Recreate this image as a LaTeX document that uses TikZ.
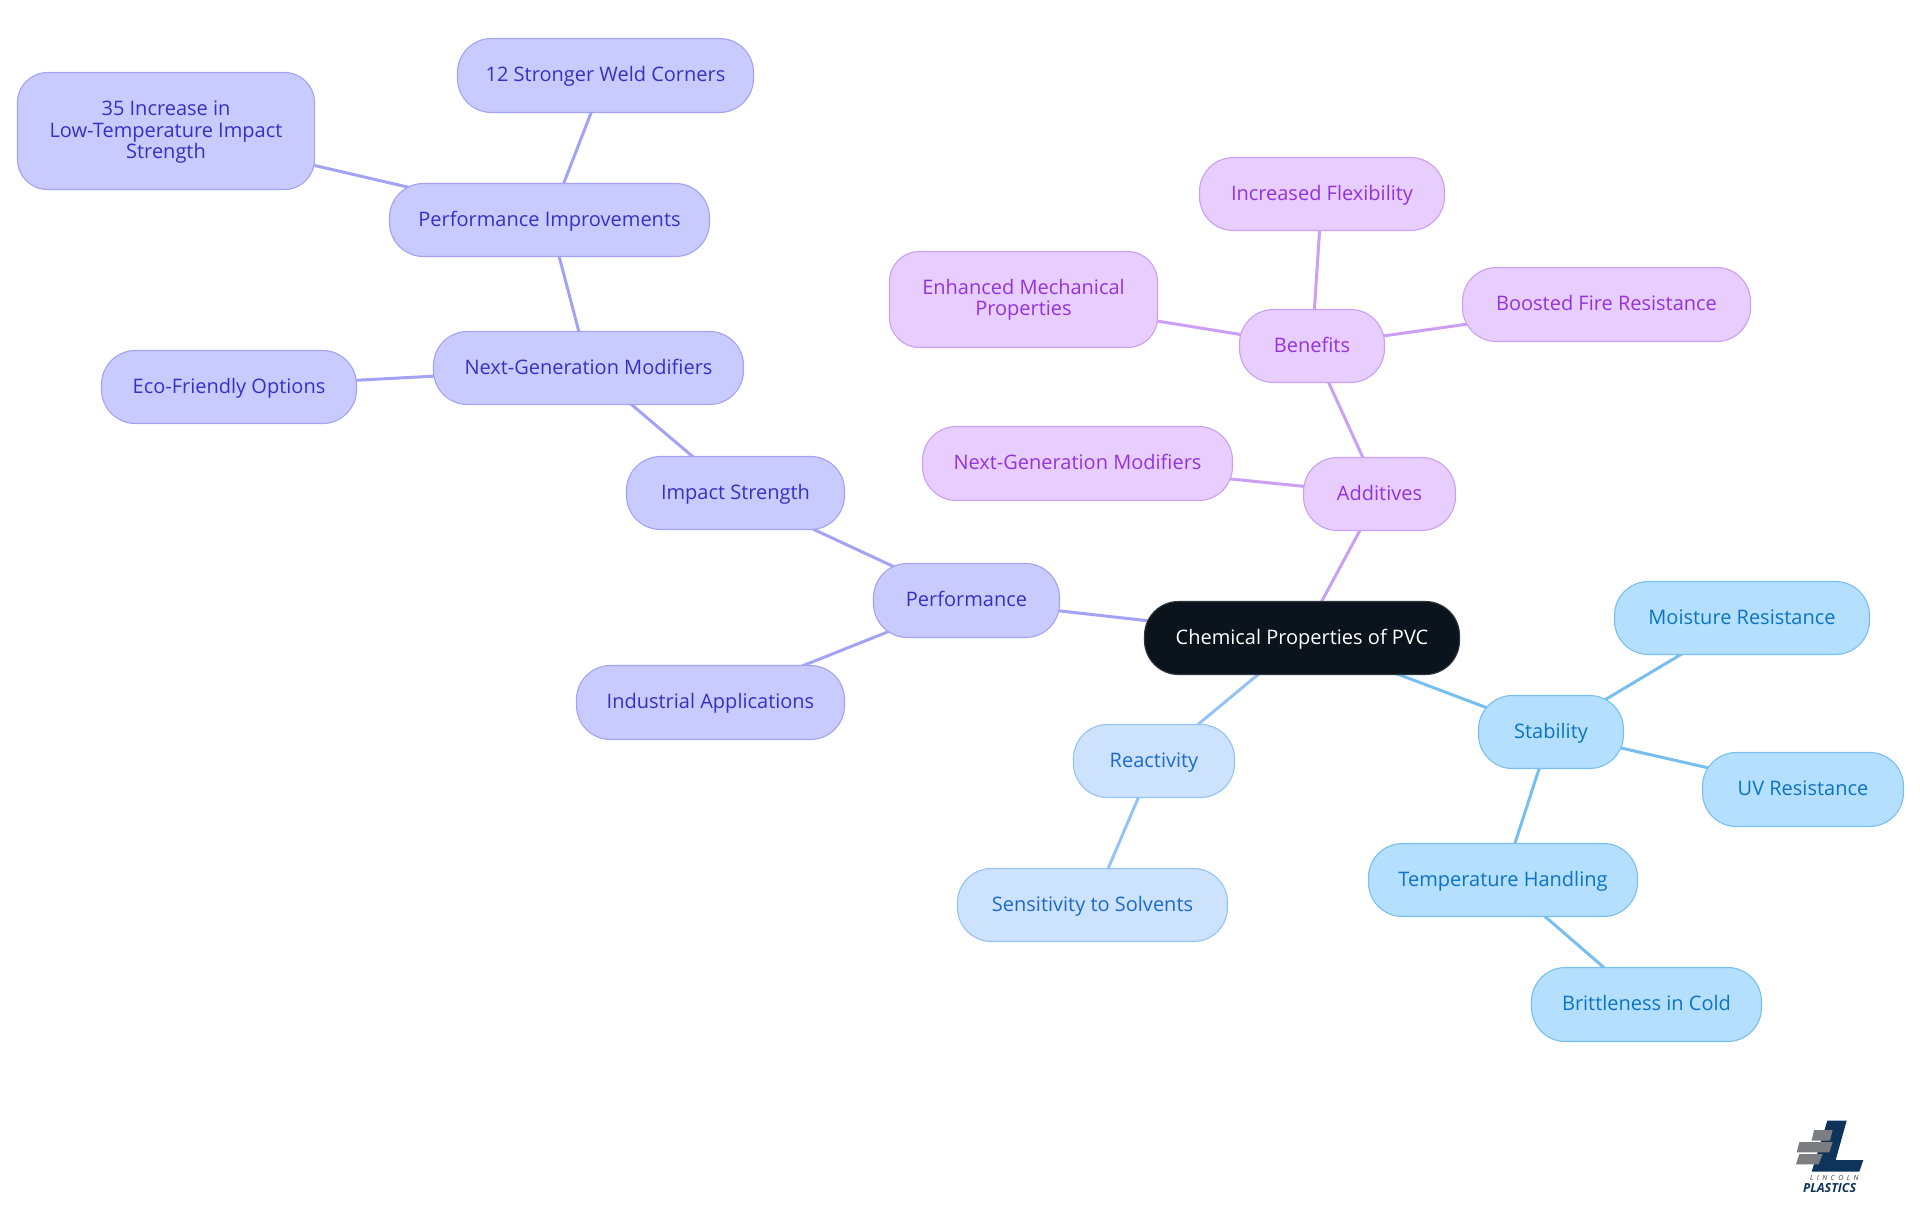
\documentclass[tikz,border=0pt]{standalone}
\usepackage{fontspec}
\setmainfont{Open Sans}
\usetikzlibrary{backgrounds}
\definecolor{vFill}{HTML}{C9CBFE}\definecolor{vLine}{HTML}{A3A3F6}\definecolor{vText}{HTML}{3730C4}
\definecolor{pFill}{HTML}{E8CDFF}\definecolor{pLine}{HTML}{CB9FF3}\definecolor{pText}{HTML}{9333DD}
\definecolor{rFill}{HTML}{CDE2FD}\definecolor{rLine}{HTML}{96C3F5}\definecolor{rText}{HTML}{1C6AD0}
\definecolor{sFill}{HTML}{B4DFFE}\definecolor{sLine}{HTML}{78BFF0}\definecolor{sText}{HTML}{0B74C4}
\definecolor{rootFill}{HTML}{0B131C}\definecolor{logoNavy}{HTML}{0F3459}\definecolor{logoGray}{HTML}{7C7D80}
\tikzset{
  x=1pt,y=-1pt,
  box/.style={rounded corners=34pt,line width=1.1pt,inner sep=0pt,align=center,
    text height=17pt,text depth=5pt,
    font=\fontsize{20}{21.5}\selectfont},
  multi/.style={text height=,text depth=,rounded corners=30pt},
  vbox/.style={box,fill=vFill,draw=vLine,text=vText},
  pbox/.style={box,fill=pFill,draw=pLine,text=pText},
  rbox/.style={box,fill=rFill,draw=rLine,text=rText},
  sbox/.style={box,fill=sFill,draw=sLine,text=sText},
  rootbox/.style={box,fill=rootFill,draw=rootFill!85!white,text=white},
  vedge/.style={draw=vLine,line width=3pt},
  pedge/.style={draw=pLine,line width=3pt},
  redge/.style={draw=rLine,line width=3pt},
  sedge/.style={draw=sLine,line width=3pt},
  sz/.style 2 args={minimum width=#1pt-1pt,minimum height=#2pt-1pt}
}
\begin{document}
\begin{tikzpicture}
\useasboundingbox (0,0) rectangle (1920,1215);
\node[rootbox,sz={316}{74}] (root) at (1302,638) {Chemical Properties of PVC};
\node[vbox,sz={297}{75}] (weld) at (605.5,75.5) {12 Stronger Weld Corners};
\node[vbox,multi,sz={298}{118}] (low) at (166,131) {\rule{0pt}{17.5pt}35 Increase in\\Low-Temperature Impact\\Strength};
\node[vbox,sz={321}{74}] (imp) at (549.5,220) {Performance Improvements};
\node[vbox,sz={311}{74}] (nextv) at (588.5,368) {Next-Generation Modifiers};
\node[vbox,sz={256}{74}] (eco) at (229,387) {Eco-Friendly Options};
\node[vbox,sz={219}{74}] (impact) at (735.5,493) {Impact Strength};
\node[vbox,sz={187}{75}] (perf) at (966.5,600.5) {Performance};
\node[vbox,sz={269}{75}] (ind) at (710.5,702.5) {Industrial Applications};
\node[rbox,sz={162}{74}] (react) at (1154,761) {Reactivity};
\node[rbox,sz={271}{74}] (solv) at (1092.5,905) {Sensitivity to Solvents};
\node[sbox,sz={146}{74}] (stab) at (1551,732) {Stability};
\node[sbox,sz={256}{74}] (moist) at (1742,618) {Moisture Resistance};
\node[sbox,sz={202}{75}] (uv) at (1803,789.5) {UV Resistance};
\node[sbox,sz={270}{74}] (temp) at (1503,880) {Temperature Handling};
\node[sbox,sz={231}{75}] (brit) at (1646.5,1004.5) {Brittleness in Cold};
\node[pbox,sz={153}{74}] (add) at (1379.5,494) {Additives};
\node[pbox,sz={311}{75}] (nextp) at (1077.5,463.5) {Next-Generation Modifiers};
\node[pbox,sz={146}{74}] (ben) at (1312,346) {Benefits};
\node[pbox,multi,sz={269}{97}] (mech) at (1023.5,299.5) {\rule{0pt}{16pt}Enhanced Mechanical\\Properties};
\node[pbox,sz={246}{74}] (flex) at (1322,194) {Increased Flexibility};
\node[pbox,sz={289}{75}] (fire) at (1606.5,304.5) {Boosted Fire Resistance};
\begin{scope}[on background layer]
\draw[vedge] (root.center) -- (perf.center);
\draw[vedge] (perf.center) -- (impact.center);
\draw[vedge] (perf.center) -- (ind.center);
\draw[vedge] (impact.center) -- (nextv.center);
\draw[vedge] (nextv.center) -- (eco.center);
\draw[vedge] (nextv.center) -- (imp.center);
\draw[vedge] (imp.center) -- (weld.center);
\draw[vedge] (imp.center) -- (low.center);
\draw[redge] (root.center) -- (react.center);
\draw[redge] (react.center) -- (solv.center);
\draw[sedge] (root.center) -- (stab.center);
\draw[sedge] (stab.center) -- (moist.center);
\draw[sedge] (stab.center) -- (uv.center);
\draw[sedge] (stab.center) -- (temp.center);
\draw[sedge] (temp.center) -- (brit.center);
\draw[pedge] (root.center) -- (add.center);
\draw[pedge] (add.center) -- (nextp.center);
\draw[pedge] (add.center) -- (ben.center);
\draw[pedge] (ben.center) -- (mech.center);
\draw[pedge] (ben.center) -- (flex.center);
\draw[pedge] (ben.center) -- (fire.center);
\end{scope}
\begin{scope}[shift={(1770,1100)},x=0.3333pt,y=-0.3333pt]
\fill[logoNavy] (172,62) -- (230,62) -- (197,180) -- (280,180) -- (268,215) -- (125,215) -- cycle;
\fill[logoGray] (132,90) -- (188,90) -- (180,122) -- (125,122) -- cycle;
\fill[logoGray] (88,126) -- (188,126) -- (178,157) -- (80,157) -- cycle;
\fill[logoGray] (88,162) -- (158,162) -- (146,193) -- (78,193) -- cycle;
\node[inner sep=0pt,text=logoGray!50!black,font=\fontsize{7}{7}\selectfont\itshape] (logoa) at (193,235) {L\,\,\,I\,\,\,N\,\,\,C\,\,\,O\,\,\,L\,\,\,N};
\node[inner sep=0pt,text=logoNavy,font=\fontsize{12.5}{12.5}\selectfont\bfseries\itshape] (logob) at (179,265) {PLASTICS};
\end{scope}
\end{tikzpicture}
\end{document}
